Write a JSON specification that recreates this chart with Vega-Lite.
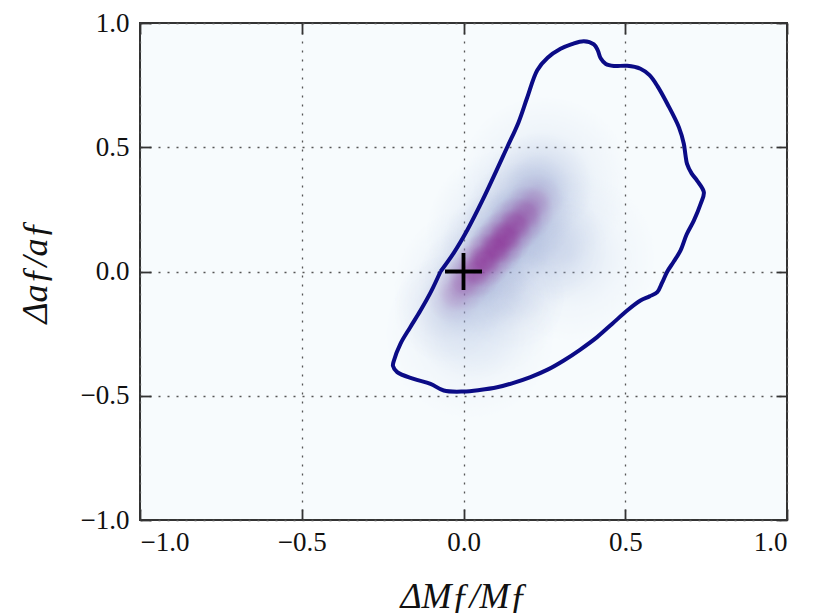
{
  "$schema": "https://vega.github.io/schema/vega-lite/v6.json",
  "width": 647,
  "height": 497,
  "autosize": {"type": "none"},
  "padding": {"left": 140, "top": 23, "right": 26, "bottom": 95},
  "background": "white",
  "view": {"fill": "#f7fbfd", "stroke": "#333333", "strokeWidth": 2},
  "config": {
    "font": "Liberation Serif, Times New Roman, serif",
    "axis": {
      "labelFont": "Liberation Serif, Times New Roman, serif",
      "labelFontSize": 27,
      "labelColor": "#111111",
      "titleFont": "Liberation Serif, Times New Roman, serif",
      "titleFontSize": 36,
      "titleFontWeight": "normal",
      "titleFontStyle": "italic",
      "titleColor": "#111111",
      "domain": false,
      "tickColor": "#333333",
      "tickSize": -11,
      "tickWidth": 1.8,
      "grid": true,
      "gridColor": "#555555",
      "gridDash": [2, 7],
      "gridWidth": 1.3,
      "gridOpacity": 1
    }
  },
  "datasets": {
    "halo": [
      {"dx": 0.05, "da": -0.08, "w": 0.6},
      {"dx": 0.15, "da": 0.15, "w": 0.75},
      {"dx": 0.25, "da": 0.36, "w": 0.55},
      {"dx": 0.33, "da": 0.06, "w": 0.4},
      {"dx": 0.02, "da": -0.25, "w": 0.35}
    ],
    "mid": [
      {"dx": -0.05, "da": -0.15, "w": 0.35},
      {"dx": 0.03, "da": -0.03, "w": 0.65},
      {"dx": 0.1, "da": 0.1, "w": 0.85},
      {"dx": 0.17, "da": 0.22, "w": 0.8},
      {"dx": 0.23, "da": 0.34, "w": 0.55},
      {"dx": 0.28, "da": 0.1, "w": 0.3},
      {"dx": 0.15, "da": -0.1, "w": 0.25}
    ],
    "core": [
      {"dx": -0.03, "da": -0.1, "w": 0.25},
      {"dx": 0.0, "da": -0.05, "w": 0.45},
      {"dx": 0.035, "da": 0.0, "w": 0.75},
      {"dx": 0.065, "da": 0.045, "w": 0.95},
      {"dx": 0.1, "da": 0.095, "w": 1.0},
      {"dx": 0.13, "da": 0.14, "w": 0.95},
      {"dx": 0.16, "da": 0.19, "w": 0.8},
      {"dx": 0.195, "da": 0.235, "w": 0.55},
      {"dx": 0.225, "da": 0.285, "w": 0.3}
    ],
    "contour": [
      {"i": 0, "dx": -0.071, "da": 0.0},
      {"i": 1, "dx": -0.03, "da": 0.075},
      {"i": 2, "dx": 0.011, "da": 0.165},
      {"i": 3, "dx": 0.06, "da": 0.29},
      {"i": 4, "dx": 0.135, "da": 0.5},
      {"i": 5, "dx": 0.17, "da": 0.6},
      {"i": 6, "dx": 0.197, "da": 0.7},
      {"i": 7, "dx": 0.228, "da": 0.81},
      {"i": 8, "dx": 0.26, "da": 0.86},
      {"i": 9, "dx": 0.3, "da": 0.896},
      {"i": 10, "dx": 0.335, "da": 0.915},
      {"i": 11, "dx": 0.372, "da": 0.927},
      {"i": 12, "dx": 0.403, "da": 0.914},
      {"i": 13, "dx": 0.415, "da": 0.89},
      {"i": 14, "dx": 0.424, "da": 0.858},
      {"i": 15, "dx": 0.44, "da": 0.835},
      {"i": 16, "dx": 0.465, "da": 0.827},
      {"i": 17, "dx": 0.506, "da": 0.828},
      {"i": 18, "dx": 0.547, "da": 0.816},
      {"i": 19, "dx": 0.575, "da": 0.79},
      {"i": 20, "dx": 0.6, "da": 0.745},
      {"i": 21, "dx": 0.63, "da": 0.675},
      {"i": 22, "dx": 0.666, "da": 0.58},
      {"i": 23, "dx": 0.681, "da": 0.514},
      {"i": 24, "dx": 0.686, "da": 0.47},
      {"i": 25, "dx": 0.691, "da": 0.433},
      {"i": 26, "dx": 0.705, "da": 0.395},
      {"i": 27, "dx": 0.722, "da": 0.366},
      {"i": 28, "dx": 0.743, "da": 0.319},
      {"i": 29, "dx": 0.733, "da": 0.272},
      {"i": 30, "dx": 0.712, "da": 0.205},
      {"i": 31, "dx": 0.69, "da": 0.15},
      {"i": 32, "dx": 0.671, "da": 0.085},
      {"i": 33, "dx": 0.65, "da": 0.04},
      {"i": 34, "dx": 0.63, "da": 0.0},
      {"i": 35, "dx": 0.614, "da": -0.045},
      {"i": 36, "dx": 0.599, "da": -0.083},
      {"i": 37, "dx": 0.575, "da": -0.1},
      {"i": 38, "dx": 0.547, "da": -0.117},
      {"i": 39, "dx": 0.506, "da": -0.157},
      {"i": 40, "dx": 0.46, "da": -0.21},
      {"i": 41, "dx": 0.413, "da": -0.264},
      {"i": 42, "dx": 0.36, "da": -0.315},
      {"i": 43, "dx": 0.31, "da": -0.358},
      {"i": 44, "dx": 0.26, "da": -0.395},
      {"i": 45, "dx": 0.207, "da": -0.425},
      {"i": 46, "dx": 0.15, "da": -0.45},
      {"i": 47, "dx": 0.104, "da": -0.466},
      {"i": 48, "dx": 0.05, "da": -0.477},
      {"i": 49, "dx": 0.0, "da": -0.483},
      {"i": 50, "dx": -0.061, "da": -0.479},
      {"i": 51, "dx": -0.102, "da": -0.452},
      {"i": 52, "dx": -0.154, "da": -0.432},
      {"i": 53, "dx": -0.205, "da": -0.405},
      {"i": 54, "dx": -0.218, "da": -0.38},
      {"i": 55, "dx": -0.215, "da": -0.358},
      {"i": 56, "dx": -0.195, "da": -0.291},
      {"i": 57, "dx": -0.165, "da": -0.225},
      {"i": 58, "dx": -0.133, "da": -0.157},
      {"i": 59, "dx": -0.1, "da": -0.08},
      {"i": 60, "dx": -0.071, "da": 0.0}
    ],
    "truth": [{"dx": 0.0, "da": 0.0}]
  },
  "layer": [
    {
      "data": {"name": "halo"},
      "mark": {
        "type": "point", "shape": "circle", "filled": true, "size": 30000, "strokeWidth": 0,
        "fill": {"gradient": "radial", "x1": 0.5, "y1": 0.5, "r1": 0, "x2": 0.5, "y2": 0.5, "r2": 0.5,
          "stops": [
            {"offset": 0, "color": "rgba(165,185,222,0.6)"},
            {"offset": 0.3, "color": "rgba(165,185,222,0.46)"},
            {"offset": 0.6, "color": "rgba(165,185,222,0.18)"},
            {"offset": 1, "color": "rgba(165,185,222,0)"}
          ]}
      },
      "encoding": {
        "x": {"field": "dx", "type": "quantitative", "scale": {"domain": [-1, 1], "nice": false, "zero": false},
          "axis": {"values": [-1, -0.5, 0, 0.5, 1], "format": ".1f", "labelPadding": 20, "title": "ΔMƒ/Mƒ", "titlePadding": 24}},
        "y": {"field": "da", "type": "quantitative", "scale": {"domain": [-1, 1], "nice": false, "zero": false},
          "axis": {"values": [-1, -0.5, 0, 0.5, 1], "format": ".1f", "labelPadding": 22, "title": "Δaƒ/aƒ", "titlePadding": 26}},
        "opacity": {"field": "w", "type": "quantitative", "scale": {"domain": [0, 1], "range": [0, 1]}, "legend": null}
      }
    },
    {
      "data": {"name": "mid"},
      "mark": {
        "type": "point", "shape": "circle", "filled": true, "size": 12000, "strokeWidth": 0,
        "fill": {"gradient": "radial", "x1": 0.5, "y1": 0.5, "r1": 0, "x2": 0.5, "y2": 0.5, "r2": 0.5,
          "stops": [
            {"offset": 0, "color": "rgba(140,150,198,0.55)"},
            {"offset": 0.3, "color": "rgba(140,150,198,0.42)"},
            {"offset": 0.6, "color": "rgba(140,150,198,0.15)"},
            {"offset": 1, "color": "rgba(140,150,198,0)"}
          ]}
      },
      "encoding": {
        "x": {"field": "dx", "type": "quantitative", "axis": null},
        "y": {"field": "da", "type": "quantitative", "axis": null},
        "opacity": {"field": "w", "type": "quantitative", "legend": null}
      }
    },
    {
      "data": {"name": "core"},
      "mark": {
        "type": "point", "shape": "circle", "filled": true, "size": 3000, "strokeWidth": 0,
        "fill": {"gradient": "radial", "x1": 0.5, "y1": 0.5, "r1": 0, "x2": 0.5, "y2": 0.5, "r2": 0.5,
          "stops": [
            {"offset": 0, "color": "rgba(140,45,148,0.7)"},
            {"offset": 0.3, "color": "rgba(140,45,148,0.55)"},
            {"offset": 0.6, "color": "rgba(140,45,148,0.2)"},
            {"offset": 1, "color": "rgba(140,45,148,0)"}
          ]}
      },
      "encoding": {
        "x": {"field": "dx", "type": "quantitative", "axis": null},
        "y": {"field": "da", "type": "quantitative", "axis": null},
        "opacity": {"field": "w", "type": "quantitative", "legend": null}
      }
    },
    {
      "data": {"name": "contour"},
      "mark": {"type": "line", "color": "#0b0b86", "strokeWidth": 4, "interpolate": "catmull-rom", "strokeJoin": "round"},
      "encoding": {
        "x": {"field": "dx", "type": "quantitative", "axis": null},
        "y": {"field": "da", "type": "quantitative", "axis": null},
        "order": {"field": "i", "type": "quantitative"}
      }
    },
    {
      "data": {"name": "truth"},
      "mark": {"type": "point", "shape": "M-1,0L1,0M0,-1L0,1", "filled": false, "size": 1369, "stroke": "#000000", "strokeWidth": 3.8, "opacity": 1},
      "encoding": {
        "x": {"field": "dx", "type": "quantitative", "axis": null},
        "y": {"field": "da", "type": "quantitative", "axis": null}
      }
    },
    {
      "data": {"name": "truth"},
      "mark": {"type": "point", "opacity": 0},
      "encoding": {
        "x": {"field": "dx", "type": "quantitative",
          "axis": {"orient": "top", "values": [-1, -0.5, 0, 0.5, 1], "labels": false, "title": null, "grid": false}},
        "y": {"field": "da", "type": "quantitative",
          "axis": {"orient": "right", "values": [-1, -0.5, 0, 0.5, 1], "labels": false, "title": null, "grid": false}}
      }
    }
  ],
  "resolve": {"axis": {"x": "independent", "y": "independent"}}
}
